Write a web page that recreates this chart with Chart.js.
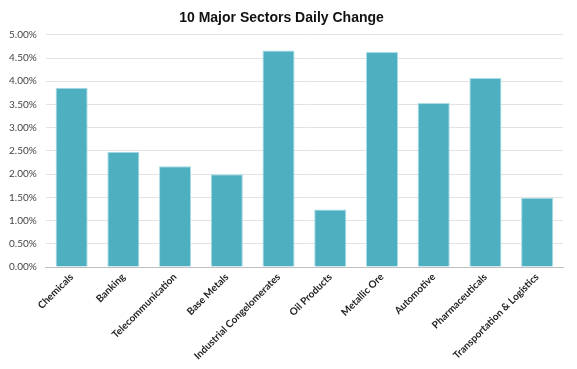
<!DOCTYPE html>
<html>
<head>
<meta charset="utf-8">
<script src="https://cdn.jsdelivr.net/npm/chart.js@4"></script>
<style>
  html, body { margin: 0; padding: 0; background: #fff; }
  #wrap { width: 577px; height: 369px; }
</style>
</head>
<body>
<div id="wrap"><canvas id="sectors-chart" width="577" height="369"></canvas></div>
<script>
// Sector names (as written on the original chart)
const sectors = [
    'Chemicals', 'Banking', 'Telecommunication', 'Base Metals',
    'Industrial Congelomerates', 'Oil Products', 'Metallic Ore',
    'Automotive', 'Pharmaceuticals', 'Transportation & Logistics'
];
// Daily change in percent
const dailyChange = [3.86, 2.48, 2.17, 2.00, 4.66, 1.24, 4.63, 3.53, 4.07, 1.49];
// Y axis range / step (percent)
const yMin = 0;
const yMax = 5;
const yStep = 0.5;

const ctx = document.getElementById('sectors-chart').getContext('2d');

new Chart(ctx, {
    type: 'bar',
    data: {
        labels: sectors,
        datasets: [{
            label: 'Daily Change',
            data: dailyChange,
            backgroundColor: '#4EAFC1',
            borderColor: '#A9DCE5',
            borderWidth: 1,
            categoryPercentage: 1,
            barPercentage: 0.62
        }]
    },
    options: {
        responsive: false,
        animation: false,
        layout: { padding: { left: 0, right: 14, top: 6, bottom: 3 } },
        plugins: {
            legend: { display: false },
            tooltip: { enabled: false },
            title: {
                display: true,
                text: '10 Major Sectors Daily Change',
                color: '#111',
                font: { family: 'Liberation Sans', size: 14, weight: 'bold' },
                padding: { top: 4, bottom: 8 }
            }
        },
        scales: {
            x: {
                grid: { display: false, drawTicks: false },
                border: { color: '#BFBFBF', width: 1 },
                ticks: {
                    autoSkip: false,
                    minRotation: 45,
                    maxRotation: 45,
                    padding: 4,
                    color: '#222',
                    font: { family: 'Lato', size: 10, weight: 'bold' }
                }
            },
            y: {
                min: yMin,
                max: yMax,
                grid: { color: '#E3E3E3', drawTicks: false },
                border: { display: false },
                ticks: {
                    stepSize: yStep,
                    padding: 9,
                    color: '#444',
                    font: { family: 'Lato', size: 10 },
                    callback: function (v) { return v.toFixed(2) + '%'; }
                }
            }
        }
    }
});
</script>
</body>
</html>
